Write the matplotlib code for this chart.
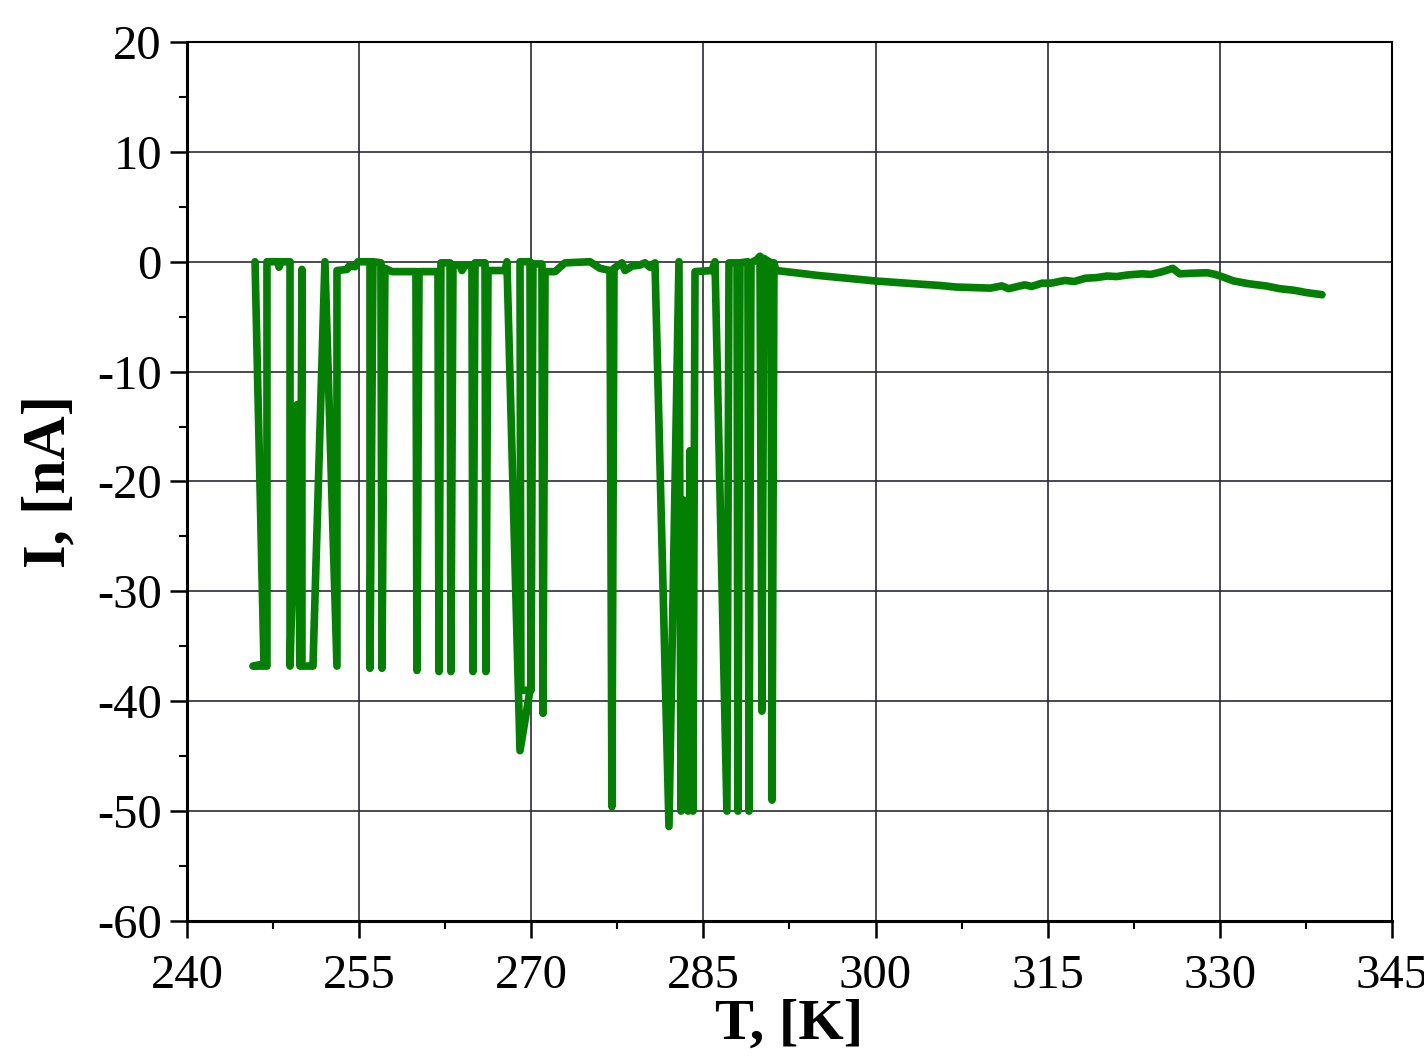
import matplotlib
matplotlib.use('Agg')
import matplotlib.pyplot as plt
from matplotlib.ticker import MultipleLocator

plt.rcParams['font.family'] = ['Liberation Serif', 'DejaVu Serif']
plt.rcParams['axes.unicode_minus'] = False

# spiky part of the sweep (T in K, I in nA)
temp_spikes = [245.93, 246.71, 245.75, 246.97, 246.97, 247.93, 248.02, 248.19, 248.98, 248.98,
               249.60, 249.85, 250.02, 250.02, 250.98, 252.02, 253.07, 253.07, 253.94, 254.12,
               254.64, 254.90, 255.95, 255.95, 256.21, 256.90, 256.99, 257.25, 257.86, 259.95,
               260.04, 260.22, 261.87, 261.96, 262.13, 262.92, 263.00, 263.18, 263.79, 263.96,
               264.22, 264.83, 264.92, 265.10, 265.97, 266.05, 266.23, 267.71, 267.88, 269.02,
               269.89, 269.10, 269.02, 269.89, 269.98, 270.15, 270.93, 271.02, 271.20, 272.07,
               272.94, 275.12, 275.99, 276.86, 277.03, 277.21, 277.90, 278.17, 278.78, 279.47,
               279.91, 280.34, 280.78, 282.00, 282.87, 283.05, 283.31, 283.66, 283.83, 284.09,
               284.27, 285.75, 286.01, 287.05, 287.23, 287.93, 288.01, 288.19, 288.88, 288.97,
               289.15, 289.67, 289.93, 290.10, 290.27, 290.89, 290.98, 291.15]
curr_spikes = [0.0, -36.6, -36.8, -36.8, 0.0, 0.0, -0.5, 0.0, 0.0, -36.8,
               -13.0, -36.8, -0.7, -36.8, -36.8, 0.0, -36.8, -0.8, -0.7, -0.4,
               -0.45, 0.0, 0.0, -37.0, 0.0, -0.1, -37.0, -0.6, -0.9, -0.9,
               -37.2, -0.9, -0.9, -37.3, -0.1, -0.1, -37.3, -0.3, -0.3, -0.8,
               -0.3, -0.3, -37.3, -0.1, -0.1, -37.3, -0.8, -0.8, 0.0, -44.5,
               -39.0, -39.0, 0.0, 0.0, -39.0, -0.2, -0.2, -41.1, -0.9, -0.9,
               -0.1, 0.0, -0.6, -0.8, -49.6, -0.6, -0.1, -0.8, -0.4, -0.3,
               -0.1, -0.5, -0.1, -51.4, 0.0, -50.0, -21.7, -50.0, -17.2, -50.0,
               -0.9, -0.8, 0.0, -50.0, -0.1, -0.1, -50.0, -0.1, 0.0, -50.0,
               -0.1, 0.2, 0.5, -40.9, 0.3, -0.1, -49.0, -0.1]

# smooth part above ~291 K
temp_smooth = [291.32, 293.0, 295.0, 297.0, 299.0, 300.0, 302.0, 304.0, 305.5, 307.0,
               308.5, 310.0, 311.0, 311.6, 312.2, 313.0, 313.6, 314.5, 315.3, 316.5,
               317.3, 318.3, 319.2, 320.2, 321.0, 322.0, 323.2, 324.0, 325.0, 325.9,
               326.5, 327.5, 328.9, 329.6, 330.3, 331.2, 332.5, 334.0, 335.2, 336.5,
               337.5, 338.9]
curr_smooth = [-0.8, -1.0, -1.25, -1.45, -1.65, -1.75, -1.9, -2.05, -2.15, -2.3,
               -2.35, -2.4, -2.2, -2.45, -2.3, -2.1, -2.25, -1.95, -1.95, -1.7,
               -1.8, -1.5, -1.45, -1.3, -1.35, -1.2, -1.1, -1.15, -0.9, -0.6,
               -1.1, -1.05, -1.0, -1.15, -1.4, -1.75, -2.0, -2.2, -2.45, -2.6,
               -2.8, -3.0]

x_ticks = [240, 255, 270, 285, 300, 315, 330, 345]
y_ticks = [-60, -50, -40, -30, -20, -10, 0, 10, 20]

fig = plt.figure(figsize=(14.24, 10.63), dpi=100)
ax = fig.add_axes([0.1313, 0.1336, 0.8462, 0.8269])

ax.plot(temp_spikes + temp_smooth, curr_spikes + curr_smooth,
        color='#037f03', lw=5.5, solid_joinstyle='round', solid_capstyle='round', zorder=3)

ax.set_xlim(240, 345)
ax.set_ylim(-60, 20)
ax.set_xticks(x_ticks)
ax.set_yticks(y_ticks)
ax.xaxis.set_minor_locator(MultipleLocator(7.5))
ax.yaxis.set_minor_locator(MultipleLocator(5))
ax.grid(True, which='major', color='#2a2a35', lw=1.2, zorder=1)

ax.tick_params(which='major', direction='out', length=12, width=1.8,
               labelsize=35, top=False, right=False)
ax.tick_params(axis='x', which='major', pad=12)
ax.tick_params(axis='y', which='major', pad=6)
ax.tick_params(which='minor', direction='out', length=6, width=1.5, top=False, right=False)

for side in ['left', 'bottom']:
    ax.spines[side].set_linewidth(2.2)
for side in ['top', 'right']:
    ax.spines[side].set_linewidth(1.5)

ax.set_xlabel('T, [K]', fontsize=42, fontweight='bold', labelpad=0)
ax.set_ylabel('I, [nA]', fontsize=44, fontweight='bold', labelpad=14)

fig.savefig('out.png', dpi=100)
